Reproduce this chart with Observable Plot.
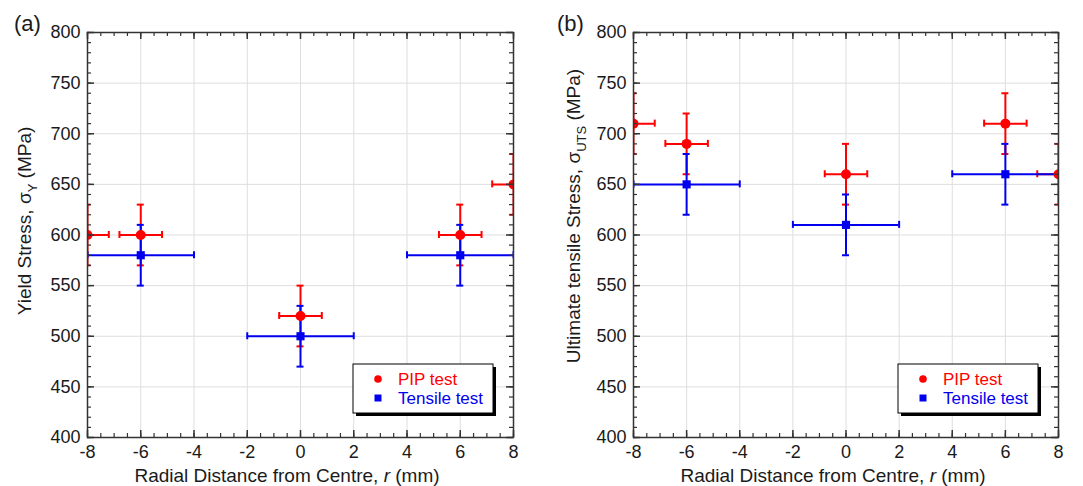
<!DOCTYPE html>
<html>
<head>
<meta charset="utf-8">
<script src="https://cdn.jsdelivr.net/npm/d3@7"></script>
<script src="https://cdn.jsdelivr.net/npm/@observablehq/plot@0.6"></script>
<style>
  html, body { margin: 0; padding: 0; background: #fff; }
  #wrap { position: relative; width: 1083px; height: 486px; overflow: hidden; }
  #pa { position: absolute; left: 0; top: 0; }
  #pb { position: absolute; left: 541px; top: 0; }
</style>
</head>
<body>
<div id="wrap"><div id="pa"></div><div id="pb"></div></div>
<script>
// ---- data ----
const rPIP = [-8, -6, 0, 6, 8];
const rTensile = [-6, 0, 6];
const yieldPIP = [600, 600, 520, 600, 650];
const yieldPIPErr = [30, 30, 30, 30, 30];
const yieldTensile = [580, 500, 580];
const yieldTensileErr = [30, 30, 30];
const utsPIP = [710, 690, 660, 710, 660];
const utsPIPErr = [30, 30, 30, 30, 30];
const utsTensile = [650, 610, 660];
const utsTensileErr = [30, 30, 30];
const pipXErr = [0.8, 0.8, 0.8, 0.8, 0.8];
const tensileXErr = [2, 2, 2];
const seriesNames = ["PIP test", "Tensile test"];
const xTicks = [-8, -6, -4, -2, 0, 2, 4, 6, 8];
const yTicks = [400, 450, 500, 550, 600, 650, 700, 750, 800];
const xMinorTicks = d3.range(-8, 8.001, 0.5);
const yMinorTicks = d3.range(400, 800.001, 10);

const RED = "#ff0000";
const BLUE = "#0000ee";
const INK = "#1a1a1a";
const FONT = "'Liberation Sans', Arial, Helvetica, sans-serif";

function rows(xs, ys, yerr, xerr) {
  return xs.map((x, i) => ({x, y: ys[i], ye: yerr[i], xe: xerr[i]}));
}

function errMarks(data, color) {
  const o = {stroke: color, strokeWidth: 2, clip: true};
  return [
    Plot.ruleX(data, {x: "x", y1: d => d.y - d.ye, y2: d => d.y + d.ye, ...o}),
    Plot.ruleY(data, {y: "y", x1: d => d.x - d.xe, x2: d => d.x + d.xe, ...o}),
    Plot.ruleY(data, {y: d => d.y - d.ye, x1: "x", x2: "x", insetLeft: -3.5, insetRight: -3.5, ...o}),
    Plot.ruleY(data, {y: d => d.y + d.ye, x1: "x", x2: "x", insetLeft: -3.5, insetRight: -3.5, ...o}),
    Plot.ruleX(data, {x: d => d.x - d.xe, y1: "y", y2: "y", insetTop: -3.5, insetBottom: -3.5, ...o}),
    Plot.ruleX(data, {x: d => d.x + d.xe, y1: "y", y2: "y", insetTop: -3.5, insetBottom: -3.5, ...o})
  ];
}

function makePanel({pip, tensile, width, ml, mr, panelLabel, panelX, yTitle, ySub, xTitleX, yTitleX, yTitleY}) {
  const height = 486, mt = 32, mb = 49;
  const W = width - ml - mr, H = height - mt - mb;
  const tickColor = "#333";
  const svg = Plot.plot({
    width, height,
    marginLeft: ml, marginRight: mr, marginTop: mt, marginBottom: mb,
    x: {domain: [-8, 8], axis: null},
    y: {domain: [400, 800], axis: null},
    style: {fontFamily: FONT, fontSize: "18px", color: INK, background: "#fff", overflow: "visible"},
    marks: [
      Plot.gridX(xTicks, {stroke: "#dedede", strokeOpacity: 1, strokeWidth: 1}),
      Plot.gridY(yTicks, {stroke: "#dedede", strokeOpacity: 1, strokeWidth: 1}),
      Plot.text(xTicks, {x: d => d, frameAnchor: "bottom", dy: 15, lineAnchor: "middle",
        text: d => String(d), fontSize: 18, fill: INK}),
      Plot.text(yTicks, {y: d => d, frameAnchor: "left", dx: -7, textAnchor: "end", lineAnchor: "middle",
        text: d => String(d), fontSize: 18, fill: INK}),
      ...errMarks(pip, RED),
      ...errMarks(tensile, BLUE),
      Plot.dot(pip, {x: "x", y: "y", r: 5, fill: RED, clip: true}),
      Plot.dot(tensile, {x: "x", y: "y", r: 4.6, symbol: "square", fill: BLUE, clip: true}),
      Plot.ruleX(xMinorTicks, {x: d => d, insetTop: H - 4, stroke: tickColor, strokeWidth: 1.2}),
      Plot.ruleX(xMinorTicks, {x: d => d, insetBottom: H - 4, stroke: tickColor, strokeWidth: 1.2}),
      Plot.ruleX(xTicks, {x: d => d, insetTop: H - 7, stroke: tickColor, strokeWidth: 1.5}),
      Plot.ruleX(xTicks, {x: d => d, insetBottom: H - 7, stroke: tickColor, strokeWidth: 1.5}),
      Plot.ruleY(yMinorTicks, {y: d => d, insetRight: W - 4, stroke: tickColor, strokeWidth: 1.2}),
      Plot.ruleY(yMinorTicks, {y: d => d, insetLeft: W - 4, stroke: tickColor, strokeWidth: 1.2}),
      Plot.ruleY(yTicks, {y: d => d, insetRight: W - 7, stroke: tickColor, strokeWidth: 1.5}),
      Plot.ruleY(yTicks, {y: d => d, insetLeft: W - 7, stroke: tickColor, strokeWidth: 1.5}),
      Plot.frame({stroke: tickColor, strokeWidth: 1.5})
    ]
  });
  const s = d3.select(svg);
  // make sure the tick labels are drawn at the intended size
  s.selectAll("g[aria-label='text']").style("font-size", "18px").style("font-family", FONT);
  s.append("text").attr("x", panelX).attr("y", 31).attr("text-anchor", "start")
    .attr("font-size", 22).attr("fill", INK).attr("font-family", FONT).text(panelLabel);
  const xt = s.append("text").attr("x", xTitleX).attr("y", 482).attr("text-anchor", "middle")
    .attr("font-size", 19).attr("fill", INK).attr("font-family", FONT);
  xt.append("tspan").text("Radial Distance from Centre, ");
  xt.append("tspan").attr("font-style", "italic").text("r");
  xt.append("tspan").text(" (mm)");
  const yt = s.append("text").attr("transform", `translate(${yTitleX},${yTitleY}) rotate(-90)`)
    .attr("text-anchor", "middle").attr("font-size", 19).attr("fill", INK).attr("font-family", FONT);
  yt.append("tspan").text(yTitle + ", σ");
  yt.append("tspan").attr("font-size", 13).attr("dy", 6).text(ySub);
  yt.append("tspan").attr("dy", -6).text(" (MPa)");
  // legend
  const lw = 140, lh = 49;
  const lx = width - mr - 20 - lw, ly = 364;
  const g = s.append("g");
  g.append("rect").attr("x", lx + 3).attr("y", ly + 3).attr("width", lw).attr("height", lh).attr("fill", "#000");
  g.append("rect").attr("x", lx).attr("y", ly).attr("width", lw).attr("height", lh)
    .attr("fill", "#fff").attr("stroke", "#000").attr("stroke-width", 1);
  g.append("circle").attr("cx", lx + 25).attr("cy", ly + 15).attr("r", 3.8).attr("fill", RED);
  g.append("rect").attr("x", lx + 21.5).attr("y", ly + 30.5).attr("width", 7).attr("height", 7).attr("fill", BLUE);
  g.append("text").attr("x", lx + 45).attr("y", ly + 21).attr("text-anchor", "start").attr("font-size", 17)
    .attr("fill", RED).attr("font-family", FONT).text(seriesNames[0]);
  g.append("text").attr("x", lx + 45).attr("y", ly + 40).attr("text-anchor", "start").attr("font-size", 17)
    .attr("fill", BLUE).attr("font-family", FONT).text(seriesNames[1]);
  return svg;
}

const pipA = rows(rPIP, yieldPIP, yieldPIPErr, pipXErr);
const tenA = rows(rTensile, yieldTensile, yieldTensileErr, tensileXErr);
const pipB = rows(rPIP, utsPIP, utsPIPErr, pipXErr);
const tenB = rows(rTensile, utsTensile, utsTensileErr, tensileXErr);

document.getElementById("pa").append(makePanel({
  pip: pipA, tensile: tenA, width: 541, ml: 87, mr: 28, panelLabel: "(a)", panelX: 14,
  yTitle: "Yield Stress", ySub: "Y", xTitleX: 287, yTitleX: 31, yTitleY: 221
}));
document.getElementById("pb").append(makePanel({
  pip: pipB, tensile: tenB, width: 542, ml: 92, mr: 25, panelLabel: "(b)", panelX: 16,
  yTitle: "Ultimate tensile Stress", ySub: "UTS", xTitleX: 292, yTitleX: 39, yTitleY: 216
}));
</script>
</body>
</html>
